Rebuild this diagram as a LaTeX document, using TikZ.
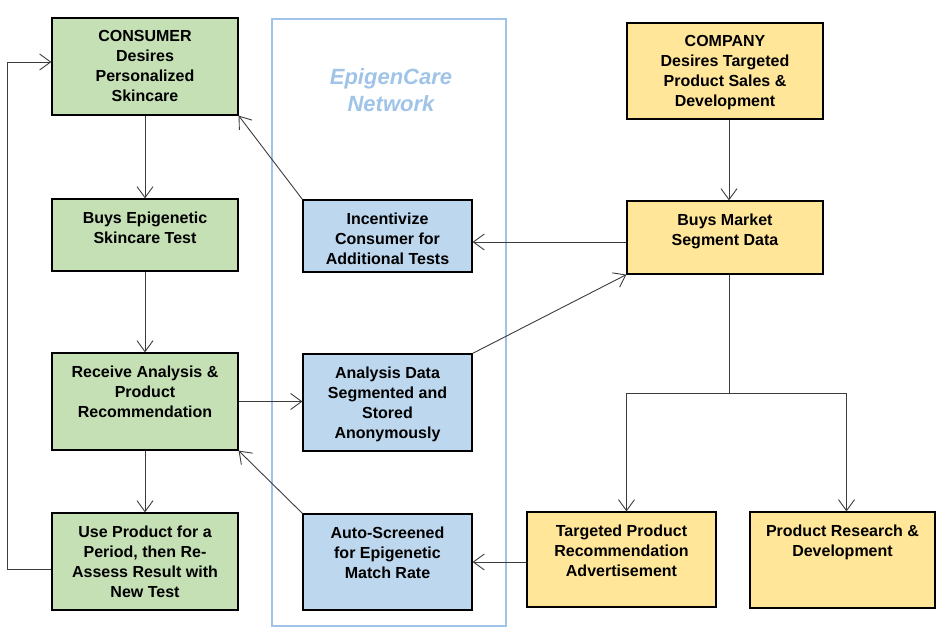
\documentclass[tikz,border=0pt]{standalone}
\usepackage{fontspec}
\setmainfont{Liberation Sans}
\usetikzlibrary{arrows.meta,calc}
\definecolor{gfill}{RGB}{197,224,180}
\definecolor{bfill}{RGB}{189,215,238}
\definecolor{yfill}{RGB}{255,230,153}
\definecolor{netc}{RGB}{160,196,232}
\definecolor{linec}{RGB}{60,60,60}
\tikzset{
  box/.style={draw=black, line width=1.2pt, rectangle, inner sep=0pt},
  lbl/.style={anchor=north, align=center, inner sep=0pt, font=\fontsize{16}{20}\selectfont\bfseries, execute at begin node=\strut},
  arr/.style={draw=linec, line width=0.9pt, -{Straight Barb[length=11pt,width=16pt]}},
  ln/.style={draw=linec, line width=0.9pt},
}
\newcommand\mybox[7]{%
  \node[box, fill=#6, minimum width={(#4-#2)*1pt}, minimum height={(#5-#3)*1pt}] (#1) at ({(#2+#4)/2},{(#3+#5)/2}) {};
  \node[lbl] (#1-t) at ([yshift=-13pt]#1.north) {#7};
}
\begin{document}
\begin{tikzpicture}[x=1pt,y=-1pt]
\useasboundingbox (0,0) rectangle (950,637);
% container
\node[draw=netc, line width=1.6pt, minimum width=234pt, minimum height=607pt, inner sep=0pt] (net) at (389,322.5) {};
\node[anchor=north, align=center, inner sep=0pt, text=netc, font=\fontsize{22}{27}\selectfont\bfseries\itshape, execute at begin node=\strut] (net-t) at (391,68) {EpigenCare\\Network};
% consumer column
\mybox{consumer}{52}{18}{238}{115}{gfill}{CONSUMER\\Desires\\Personalized\\Skincare}
\mybox{buys}{52}{199}{238}{271}{gfill}{Buys Epigenetic\\Skincare Test}
\mybox{receive}{52}{353}{238}{450}{gfill}{Receive Analysis \&\\Product\\Recommendation}
\mybox{use}{52}{513}{238}{610}{gfill}{Use Product for a\\Period, then Re-\\Assess Result with\\New Test}
% network column
\mybox{incent}{303}{200}{472}{272}{bfill}{Incentivize\\Consumer for\\Additional Tests}
\mybox{analysis}{303}{354}{472}{451}{bfill}{Analysis Data\\Segmented and\\Stored\\Anonymously}
\mybox{auto}{303}{514}{472}{610}{bfill}{Auto-Screened\\for Epigenetic\\Match Rate}
% company column
\mybox{company}{627}{23}{823}{119}{yfill}{COMPANY\\Desires Targeted\\Product Sales \&\\Development}
\mybox{market}{627}{201}{823}{274}{yfill}{Buys Market\\Segment Data}
\mybox{targ}{527}{512}{716}{607}{yfill}{Targeted Product\\Recommendation\\Advertisement}
\mybox{rnd}{750}{512}{935}{608}{yfill}{Product Research \&\\Development}
% connectors
\draw[arr] (consumer.south) -- (buys.north);
\draw[arr] (buys.south) -- (receive.north);
\draw[arr] (receive.south) -- (use.north);
\coordinate (loopA) at (7,569);
\coordinate (loopB) at (7,62);
\draw[arr] (loopA -| use.west) -- (loopA) -- (loopB) -- (loopB -| consumer.west);
\draw[arr] (incent.north west) -- (consumer.south east);
\draw[arr] (receive.east) -- (receive.east -| analysis.west);
\draw[arr] (analysis.north east) -- (market.south west);
\draw[arr] (auto.north west) -- (receive.south east);
\coordinate (mk) at (0,242);
\draw[arr] (mk -| market.west) -- (mk -| incent.east);
\draw[arr] ([xshift=4pt]company.south) -- ([xshift=4pt]market.north);
\coordinate (sp) at (729,393);
\draw[ln] (sp |- market.south) -- (sp);
\draw[arr] (sp) -| ([xshift=5pt]targ.north);
\draw[arr] (sp) -| ([xshift=4pt]rnd.north);
\coordinate (tg) at (0,562);
\draw[arr] (tg -| targ.west) -- (tg -| auto.east);
\end{tikzpicture}
\end{document}
